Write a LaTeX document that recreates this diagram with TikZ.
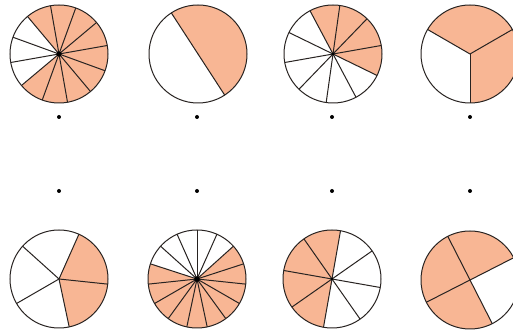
\documentclass[tikz,border=0pt]{standalone}
\usepackage{tikz}
\definecolor{peach}{RGB}{248,182,148}
\definecolor{rimcol}{RGB}{40,35,33}
\tikzset{
  piefill/.style={fill=peach},
  spoke/.style={draw=rimcol, line width=1pt},
  rim/.style={draw=rimcol, line width=1pt},
  dotmark/.style={fill=black},
}
\newcommand{\Rpie}{49pt}
% #1 x, #2 y, #3 sectors, #4 first spoke angle, #5 first shaded sector index, #6 shaded count, #7 hub radius
\newcommand{\mypie}[7]{%
  \begin{scope}[shift={(#1,#2)}]
    \pgfmathsetmacro\pst{360/#3}
    \foreach \k in {1,...,#6} {
      \pgfmathsetmacro\aa{#4+(#5+\k-1)*\pst}
      \pgfmathsetmacro\bb{\aa+\pst}
      \fill[piefill] (0,0) -- (\aa:\Rpie) arc[start angle=\aa, end angle=\bb, radius=\Rpie] -- cycle;
    }
    \foreach \k in {1,...,#3} {
      \pgfmathsetmacro\cc{#4+(\k-1)*\pst}
      \draw[spoke] (0,0) -- (\cc:\Rpie);
    }
    \draw[rim] (0,0) circle[radius=\Rpie];
    \fill[dotmark] (0,0) circle[radius=#7];
  \end{scope}}
\begin{document}
\begin{tikzpicture}[x=1pt,y=1pt]
  \useasboundingbox (0,0) rectangle (513,331);
  \fill[white] (0,0) rectangle (513,331);
  % top row
  \mypie{59}{277}{12}{10}{7}{9}{2.6pt}
  \mypie{198}{277}{2}{-57}{0}{1}{0pt}
  \mypie{333}{277}{10}{10}{9}{4}{1.6pt}
  \mypie{470}{277}{3}{30}{2}{2}{0pt}
  % bottom row
  \mypie{59}{52}{5}{-6}{4}{2}{0pt}
  \mypie{197}{52}{15}{18}{6}{10}{2.8pt}
  \mypie{332}{52}{8}{35}{1}{4}{1.3pt}
  \mypie{470}{51}{4}{27}{0}{3}{0pt}
  % dots
  \foreach \x in {59,197,332,470} {
    \fill[dotmark] (\x,214) circle[radius=2pt];
    \fill[dotmark] (\x,140) circle[radius=2pt];
  }
\end{tikzpicture}
\end{document}
